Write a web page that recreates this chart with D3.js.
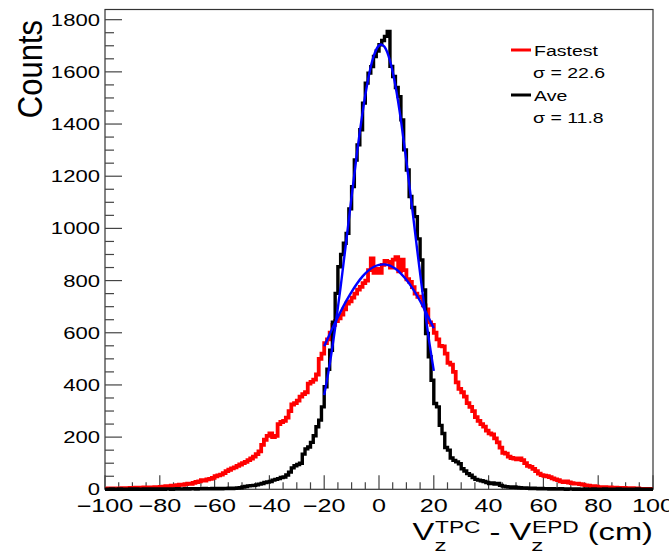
<!DOCTYPE html>
<html>
<head>
<meta charset="utf-8">
<script src="https://d3js.org/d3.v7.min.js"></script>
<style>
body { margin: 0; background: #fff; }
text { font-family: "Liberation Sans", Arial, Helvetica, sans-serif; fill: #000; }
</style>
</head>
<body>
<svg></svg>
<script>
var width = 669, height = 555;

// histogram binning: 200 bins of 1 cm from -100 to 100
var xMin = -100, xMax = 100, binWidth = 1;

// counts per bin, "Fastest"
var fastest = [
  2,3,2,3,2,3,4,3,4,5, 4,6,5,6,7,5,7,6,8,7,
  9,10,12,11,14,13,16,18,17,20, 22,21,25,28,30,35,33,38,40,44,
  50,53,56,62,70,75,80,84,90,95, 100,105,112,118,125,135,145,170,190,205,
  214,200,205,250,258,262,275,300,325,330, 340,355,365,372,405,412,420,440,500,520,
  560,575,600,630,645,655,670,690,712,720, 735,750,765,776,790,800,840,885,830,845,
  830,860,875,872,850,880,890,835,880,840, 805,795,775,750,738,735,705,690,640,630,
  600,575,550,548,520,485,478,450,410,385, 372,355,330,316,300,277,262,250,240,225,
  214,210,195,180,160,140,137,125,120,118, 115,118,112,100,90,86,78,70,60,54,
  52,50,47,42,38,35,30,28,30,26, 24,22,22,20,18,15,14,12,12,10,
  8,7,8,6,7,5,6,5,4,5, 4,3,4,3,3,2,2,1,2,1
];

// counts per bin, "Ave"
var ave = [
  0,0,1,0,0,1,0,0,0,1, 0,1,0,0,1,0,1,0,1,0,
  1,0,1,1,0,1,2,1,1,2, 1,2,2,1,2,2,3,2,2,3,
  2,3,2,3,3,4,3,4,5,6, 9,11,13,14,15,17,20,22,26,28,
  30,35,38,41,45,47,55,66,82,90, 95,100,135,155,162,180,205,240,265,316,
  393,460,533,640,751,853,900,943,981,1075, 1160,1262,1320,1378,1480,1557,1595,1620,1659,1680,
  1704,1720,1736,1755,1621,1582,1540,1505,1416,1301, 1224,1122,1080,1045,960,879,764,597,508,418,
  329,316,245,214,160,150,120,111,105,98, 79,70,60,54,45,38,35,33,30,26,
  22,24,20,22,15,12,10,9,8,9, 7,6,5,5,4,3,4,3,2,3,
  2,2,1,2,1,1,2,1,0,1, 1,0,1,0,0,1,0,0,1,0,
  0,0,1,0,0,0,0,1,0,0, 0,0,0,0,1,0,0,0,0,0
];

// gaussian fit curves (fit range -20..20)
var fitX = [-20,-18,-16,-14,-12,-10,-8,-6,-4,-2,0,2,4,6,8,10,12,14,16,18,20];
var fitFastest = [548,594,639,681,721,757,789,816,837,852,860,862,857,845,827,803,774,740,702,660,617];
var fitAve = [361,479,619,776,947,1122,1291,1444,1570,1658,1701,1696,1643,1547,1415,1258,1087,912,744,589,454];

var xTicks = [-100,-80,-60,-40,-20,0,20,40,60,80,100];
var yTicks = [0,200,400,600,800,1000,1200,1400,1600,1800];
var legendNames = ["Fastest", "Ave"];
var legendSigmas = ["\u03c3 = 22.6", "\u03c3 = 11.8"];
var seriesColors = ["#ff0000", "#000000"];

var svg = d3.select("svg")
  .attr("width", width)
  .attr("height", height);

svg.append("rect").attr("width", width).attr("height", height).attr("fill", "#fff");

var x = d3.scaleLinear().domain([xMin, xMax]).range([105, 653]);
var y = d3.scaleLinear().domain([0, 1839]).range([489.3, 9.5]);

// frame
svg.append("rect")
  .attr("x", x(xMin)).attr("y", y(1839))
  .attr("width", x(xMax) - x(xMin)).attr("height", y(0) - y(1839))
  .attr("fill", "none").attr("stroke", "#333").attr("stroke-width", 1.2);

// x ticks (pointing up into the frame)
var xMinor = d3.range(xMin, xMax + 0.1, 5);
svg.append("g").selectAll("line")
  .data(xMinor)
  .enter().append("line")
  .attr("x1", function(d) { return x(d); })
  .attr("x2", function(d) { return x(d); })
  .attr("y1", y(0))
  .attr("y2", function(d) { return y(0) - (d % 20 == 0 ? 14 : 7); })
  .attr("stroke", "#444").attr("stroke-width", 1.2);

svg.append("g").selectAll("text")
  .data(xTicks)
  .enter().append("text")
  .attr("transform", function(d) { return "translate(" + x(d) + ",512) scale(1.4,1)"; })
  .attr("text-anchor", "middle")
  .style("font-size", "18px")
  .text(function(d) { return d < 0 ? "\u2212" + (-d) : d; });

// y ticks
var yMinor = d3.range(0, 1801, 50);
svg.append("g").selectAll("line")
  .data(yMinor)
  .enter().append("line")
  .attr("x1", x(xMin))
  .attr("x2", function(d) { return x(xMin) + (d % 200 == 0 ? 17 : 9); })
  .attr("y1", function(d) { return y(d); })
  .attr("y2", function(d) { return y(d); })
  .attr("stroke", "#444").attr("stroke-width", 1.2);

svg.append("g").selectAll("text")
  .data(yTicks)
  .enter().append("text")
  .attr("transform", function(d) { return "translate(100," + (y(d) + 6) + ") scale(1.3,1)"; })
  .attr("text-anchor", "end")
  .style("font-size", "17px")
  .text(function(d) { return d; });

// axis titles
svg.append("text")
  .attr("transform", "translate(42,20) rotate(-90) scale(1,1.15)")
  .attr("text-anchor", "end")
  .style("font-size", "31px")
  .text("Counts");

var xt = svg.append("text")
  .attr("transform", "translate(653,540) scale(1.42,1)")
  .attr("text-anchor", "end")
  .style("font-size", "23px");
xt.append("tspan").text("V");
xt.append("tspan").attr("dy", 11).style("font-size", "17px").text("z");
xt.append("tspan").attr("dx", -8).attr("dy", -18).style("font-size", "16px").text("TPC");
xt.append("tspan").attr("dy", 7).text(" - V");
xt.append("tspan").attr("dy", 11).style("font-size", "17px").text("z");
xt.append("tspan").attr("dx", -8).attr("dy", -18).style("font-size", "16px").text("EPD");
xt.append("tspan").attr("dy", 7).text(" (cm)");

// histograms as step lines
var step = d3.line()
  .x(function(d) { return x(d[0]); })
  .y(function(d) { return y(d[1]); })
  .curve(d3.curveStepAfter);

function histPoints(vals) {
  var pts = vals.map(function(v, i) { return [xMin + i * binWidth, v]; });
  pts.push([xMax, vals[vals.length - 1]]);
  return pts;
}

svg.append("path")
  .datum(histPoints(fastest))
  .attr("d", step)
  .attr("fill", "none")
  .attr("stroke", seriesColors[0])
  .attr("stroke-width", 3.8);

svg.append("path")
  .datum(histPoints(ave))
  .attr("d", step)
  .attr("fill", "none")
  .attr("stroke", seriesColors[1])
  .attr("stroke-width", 3.4);

// fit curves
var smooth = d3.line()
  .x(function(d, i) { return x(fitX[i]); })
  .y(function(d) { return y(d); })
  .curve(d3.curveNatural);

[fitFastest, fitAve].forEach(function(f) {
  svg.append("path")
    .datum(f)
    .attr("d", smooth)
    .attr("fill", "none")
    .attr("stroke", "#0000ff")
    .attr("stroke-width", 2.4);
});

// legend
var leg = svg.append("g").selectAll("g")
  .data(legendNames)
  .enter().append("g")
  .attr("transform", function(d, i) { return "translate(0," + (i * 45) + ")"; });

leg.append("line")
  .attr("x1", 511).attr("x2", 531)
  .attr("y1", 50).attr("y2", 50)
  .attr("stroke", function(d, i) { return seriesColors[i]; })
  .attr("stroke-width", 3);

leg.append("text")
  .attr("transform", "translate(534,55.5) scale(1.3,1)")
  .style("font-size", "15px")
  .text(function(d) { return d; });

leg.append("text")
  .attr("transform", "translate(533,77.5) scale(1.3,1)")
  .style("font-size", "15px")
  .text(function(d, i) { return legendSigmas[i]; });
</script>
</body>
</html>
